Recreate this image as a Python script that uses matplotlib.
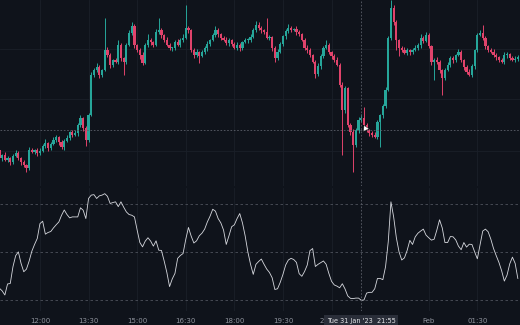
import numpy as np
import matplotlib
matplotlib.use("Agg")
import matplotlib.pyplot as plt

# 5 minute candles from Tue 31 Jan 2023 10:45
first_open = 50
close = [42, 45, 40, 42, 38, 44, 47, 42, 38, 35, 32, 50,
         48, 50, 47, 49, 54, 57, 52, 56, 60, 63, 58, 53,
         59, 62, 68, 65, 67, 75, 82, 72, 60, 85, 125, 130,
         133, 125, 130, 150, 145, 135, 140, 138, 155, 142, 138, 155,
         167, 174, 155, 150, 145, 137, 155, 160, 158, 155, 168, 170,
         165, 160, 155, 152, 152, 158, 155, 160, 162, 172, 170, 150,
         145, 148, 144, 148, 152, 156, 160, 165, 170, 166, 162, 160,
         157, 160, 156, 152, 155, 152, 158, 160, 160, 163, 170, 175,
         172, 170, 168, 162, 163, 152, 142, 148, 156, 164, 169, 172,
         170, 171, 168, 166, 160, 152, 150, 145, 138, 126, 134, 144,
         152, 155, 148, 144, 140, 135, 115, 90, 112, 75, 68, 55,
         70, 80, 82, 75, 70, 67, 65, 63, 78, 85, 94, 110,
         162, 192, 178, 160, 152, 150, 147, 150, 148, 150, 152, 155,
         162, 159, 165, 154, 138, 140, 138, 130, 122, 130, 135, 142,
         140, 145, 148, 140, 133, 128, 125, 134, 150, 165, 167, 162,
         154, 150, 148, 145, 143, 140, 138, 145, 146, 142, 140, 141,
         143]

upper_wick = [2, 1, 3, 2, 1, 2, 3, 2, 1, 2, 1, 3,
              2, 1, 2, 3, 2, 4, 1, 2, 3, 2, 1, 2,
              2, 3, 1, 2, 3, 2, 3, 1, 2, 2, 3, 2,
              4, 2, 1, 32, 3, 2, 1, 2, 5, 2, 1, 2,
              3, 4, 2, 1, 2, 3, 2, 6, 2, 1, 3, 12,
              2, 1, 3, 2, 1, 2, 3, 2, 4, 23, 2, 1,
              2, 3, 1, 2, 2, 3, 1, 2, 4, 2, 1, 2,
              3, 2, 1, 2, 3, 2, 1, 2, 2, 3, 2, 4,
              3, 2, 1, 14, 2, 1, 2, 3, 2, 1, 2, 4,
              2, 1, 3, 2, 1, 2, 3, 2, 1, 2, 3, 2,
              2, 5, 2, 1, 2, 3, 2, 3, 2, 1, 2, 3,
              2, 3, 4, 11, 2, 1, 2, 3, 2, 1, 2, 3,
              2, 8, 3, 2, 1, 2, 3, 2, 1, 2, 3, 2,
              4, 2, 3, 2, 1, 2, 3, 2, 1, 2, 3, 2,
              2, 1, 3, 2, 1, 2, 3, 2, 1, 2, 3, 8,
              2, 1, 2, 3, 2, 1, 2, 3, 2, 1, 2, 3,
              2]

lower_wick = [2, 3, 1, 2, 3, 2, 1, 2, 3, 2, 4, 2,
              1, 2, 3, 2, 1, 2, 3, 2, 1, 2, 3, 2,
              3, 1, 2, 2, 1, 3, 2, 3, 6, 2, 1, 2,
              2, 3, 2, 1, 2, 3, 2, 1, 2, 3, 13, 2,
              1, 2, 3, 2, 4, 2, 1, 2, 3, 2, 1, 2,
              3, 2, 1, 2, 3, 2, 1, 2, 2, 1, 3, 2,
              3, 2, 7, 1, 2, 3, 2, 1, 2, 3, 2, 1,
              2, 3, 2, 1, 2, 3, 2, 1, 3, 2, 1, 2,
              2, 3, 2, 1, 2, 3, 4, 2, 1, 2, 3, 2,
              2, 1, 3, 2, 1, 2, 3, 2, 1, 4, 2, 3,
              2, 1, 2, 3, 2, 1, 2, 45, 3, 2, 3, 27,
              2, 3, 2, 1, 2, 3, 2, 1, 2, 25, 3, 2,
              1, 2, 3, 10, 8, 2, 1, 2, 3, 2, 1, 2,
              3, 2, 1, 2, 3, 18, 2, 3, 17, 2, 1, 2,
              3, 2, 1, 2, 3, 2, 1, 2, 3, 2, 1, 2,
              3, 2, 1, 2, 3, 2, 1, 2, 3, 2, 1, 2,
              2]

rsi = [34.9, 33.8, 32.1, 36.7, 36.9, 43.9, 48.5, 50.1, 45.3, 41.8, 42.9, 46.3,
       50.4, 53.2, 55.7, 61.9, 62.9, 57.5, 58.2, 58.6, 60.1, 61.4, 62.6, 65.4,
       67.6, 65.7, 64.3, 64.7, 64.7, 64.7, 68.5, 67.5, 64.0, 72.4, 73.8, 74.0,
       72.4, 73.5, 73.8, 74.4, 73.3, 70.3, 70.7, 71.0, 69.0, 71.0, 68.8, 66.8,
       65.7, 65.4, 64.7, 59.2, 54.0, 52.2, 54.6, 56.0, 54.6, 52.5, 54.7, 50.8,
       50.7, 46.3, 41.5, 35.6, 38.8, 41.1, 47.4, 48.6, 49.4, 55.3, 60.3, 56.7,
       53.8, 54.7, 56.8, 57.9, 59.6, 62.6, 65.0, 67.9, 67.1, 64.0, 62.2, 59.2,
       53.2, 56.8, 60.6, 61.4, 64.0, 66.1, 62.2, 56.8, 50.1, 44.9, 40.7, 44.9,
       46.1, 47.1, 44.9, 42.9, 41.5, 39.3, 34.4, 34.7, 37.4, 40.7, 44.6, 46.7,
       47.4, 46.9, 45.7, 41.0, 39.9, 41.9, 44.6, 50.6, 51.5, 44.0, 44.9, 45.6,
       46.3, 44.9, 41.1, 37.8, 36.3, 35.8, 35.1, 36.8, 34.6, 31.7, 30.7, 30.6,
       30.8, 30.8, 29.9, 30.0, 32.9, 33.2, 33.2, 34.7, 39.0, 39.0, 38.5, 43.9,
       54.3, 71.0, 64.7, 56.0, 50.1, 46.7, 47.6, 50.7, 54.9, 53.2, 56.4, 57.9,
       58.8, 59.6, 57.1, 56.0, 55.0, 55.4, 59.2, 63.5, 60.1, 54.0, 54.0, 56.5,
       56.4, 55.1, 52.5, 51.0, 54.0, 52.1, 53.3, 53.2, 50.1, 47.2, 52.9, 58.8,
       59.6, 58.5, 55.4, 51.5, 48.5, 45.7, 42.2, 37.9, 40.4, 45.1, 47.9, 45.3,
       39.0]

# "21:00" label is mostly hidden behind the crosshair box, only "21" shows
tick_index = [15, 33, 51, 69, 87, 105, 123, 159, 177]
tick_labels = ["12:00", "13:30", "15:00", "16:30", "18:00", "19:30", "21", "Feb", "01:30"]
rsi_levels = [70, 50, 30]

cursor_index = 134
cursor_price = 70
cursor_label = "Tue 31 Jan '23  21:55"

bg = "#0f131b"
up_col = "#26a69a"
down_col = "#e0436b"
grid_col = "#1a1f29"
level_col = "#4e525c"
text_col = "#8f939d"

close = np.array(close, dtype=float)
opens = np.concatenate([[first_open], close[:-1]])
high = np.maximum(opens, close) + np.array(upper_wick)
low = np.minimum(opens, close) - np.array(lower_wick)
idx = np.arange(len(close))

fig = plt.figure(figsize=(5.2, 3.25), dpi=100, facecolor=bg)
ax = fig.add_axes([0, 0.428, 1, 0.572], facecolor=bg)
ax2 = fig.add_axes([0, 0.043, 1, 0.378], facecolor=bg, sharex=ax)

for a in (ax, ax2):
    for s in a.spines.values():
        s.set_visible(False)
    a.tick_params(left=False, labelleft=False, bottom=False, labelbottom=False)
    for t in tick_index:
        a.axvline(t, color=grid_col, lw=0.6, zorder=0)

for yv in [49, 101, 151]:
    ax.axhline(yv, color=grid_col, lw=0.6, zorder=0)

# candles
up = close >= opens
colors = np.where(up, up_col, down_col)
ax.vlines(idx, low, high, colors=colors, lw=0.7, zorder=2)
body = np.maximum(np.abs(close - opens), 1.0)
ax.bar(idx, body, bottom=np.minimum(opens, close), width=0.8,
       color=colors, linewidth=0, zorder=3)
ax.set_ylim(14, 200)
ax.set_xlim(0.2, 192.8)

# oscillator pane
ax2.plot(idx, rsi, color="#d6d8de", lw=0.6, zorder=3)
for lv in rsi_levels:
    ax2.axhline(lv, color=level_col, lw=0.6, ls=(0, (3, 3)), zorder=1)
ax2.set_ylim(25.4, 76.7)

# crosshair
ax.axvline(cursor_index, color="#5b5f69", lw=0.6, ls=(0, (2, 2)), zorder=4)
ax2.axvline(cursor_index, color="#5b5f69", lw=0.6, ls=(0, (2, 2)), zorder=4)
ax.axhline(cursor_price, color="#5b5f69", lw=0.6, ls=(0, (2, 2)), zorder=4)
ax.plot(cursor_index + 1.4, cursor_price + 2, marker=(3, 0, 25), ms=5,
        color="white", mec="#222222", mew=0.3, zorder=6)

for t, lab in zip(tick_index, tick_labels):
    if lab == "21":
        ax2.annotate(lab, (t, 0), xycoords=("data", "axes fraction"),
                     xytext=(-9, -7), textcoords="offset points", ha="left",
                     va="center", fontsize=5, color=text_col)
        continue
    ax2.annotate(lab, (t, 0), xycoords=("data", "axes fraction"),
                 xytext=(0, -7), textcoords="offset points", ha="center",
                 va="center", fontsize=5, color=text_col)

ax2.annotate(cursor_label, (cursor_index, 0), xycoords=("data", "axes fraction"),
             xytext=(0, -7), textcoords="offset points", ha="center",
             va="center", fontsize=4.7, color="#e6e7ea", zorder=10,
             bbox=dict(boxstyle="square,pad=0.4", fc="#2a2e39", ec="none"),
             annotation_clip=False)

fig.savefig("out.png", dpi=100, facecolor=bg)
